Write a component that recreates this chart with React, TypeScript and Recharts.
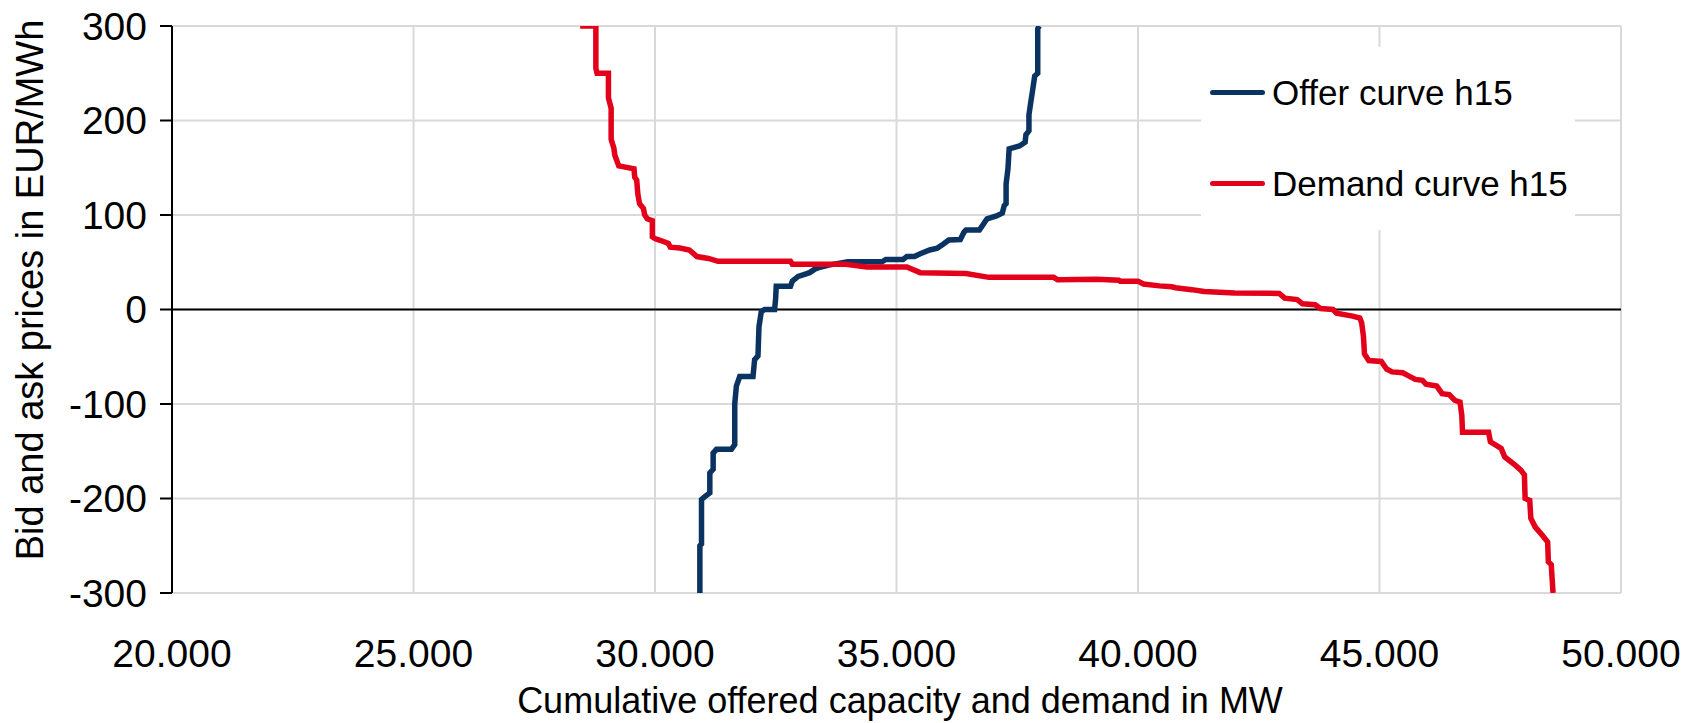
import React from "react";
import {
  LineChart,
  Line,
  XAxis,
  YAxis,
  CartesianGrid,
  ReferenceLine,
  Legend,
  Label,
} from "recharts";

// offer curve h15 (cumulative MW, price EUR/MWh)
const offerMW = [
  30929, 30929, 30963, 30963, 31032, 31135, 31135, 31204, 31204, 31272, 31582, 31651, 31651, 31685,
  31754, 32029, 32063, 32132, 32153, 32201, 32270, 32476, 32497, 32510, 32805, 32844, 32963, 33081,
  33200, 33318, 33437, 33595, 33990, 34700, 34780, 35135, 35214, 35372, 35491, 35688, 35846, 35965,
  36083, 36320, 36400, 36439, 36716, 36795, 36874, 37071, 37190, 37230, 37269, 37269, 37308, 37332,
  37545, 37663, 37680, 37742, 37742, 37782, 37821, 37861, 37924, 37924, 37955,
];
const offerPrice = [
  -300, -250, -248, -201, -198, -194, -173, -169, -152, -148, -148, -143, -100, -81,
  -71, -71, -53, -49, -18, -2, 0, 0, 11, 24.5, 24.5, 30, 35, 37,
  39, 43, 45, 47, 50.5, 50.5, 53, 53, 56, 56, 59, 63, 65, 69,
  73.5, 74, 82, 84, 84, 90, 96, 99, 102, 110, 112, 133, 149, 170,
  173, 177, 185, 189, 206, 220, 233, 247, 250, 297, 300,
];

// demand curve h15
const demandMW = [
  28450, 28776, 28776, 28800, 29036, 29036, 29092, 29092, 29147, 29170, 29250, 29566, 29580, 29621,
  29645, 29680, 29760, 29787, 29840, 29945, 29945, 30000, 30120, 30277, 30316, 30514, 30711, 30869,
  31106, 31304, 32805, 32844, 33911, 34385, 35214, 35491, 36439, 36913, 38256, 38335, 39148, 39600,
  39630, 40000, 40111, 40444, 40700, 40778, 41111, 41370, 42000, 42926, 43037, 43296, 43407, 43667,
  43778, 44037, 44111, 44444, 44593, 44630, 44667, 44689, 44778, 45037, 45148, 45259, 45481, 45593,
  45741, 45889, 45963, 46185, 46296, 46444, 46556, 46667, 46704, 46719, 47259, 47296, 47519, 47593,
  47815, 47926, 48000, 48015, 48111, 48133, 48222, 48370, 48481, 48496, 48556, 48593,
];
const demandPrice = [
  300, 300, 255, 250, 250, 224, 213, 180, 171, 163, 152, 149, 140, 137,
  122, 112, 107, 100, 96, 94, 77, 75, 73, 70, 66, 65, 63, 56,
  54, 51, 51, 48, 48, 45, 45, 39, 38, 34, 34, 31.5, 32, 31,
  30, 30, 27, 25, 24, 23, 21, 19, 17.5, 17, 12, 10.5, 6, 5,
  1, 0, -4, -7, -9, -14, -28, -47, -54, -55, -63, -66, -67, -70,
  -74, -75, -79, -81, -89, -90, -96, -98, -112, -130, -130, -140, -147, -156,
  -165, -170, -175, -200, -202, -221, -230, -239, -246, -267, -270, -300,
];

const seriesNames = ["Offer curve h15", "Demand curve h15"];
const xTicks = [20000, 25000, 30000, 35000, 40000, 45000, 50000];
const yTicks = [-300, -200, -100, 0, 100, 200, 300];

const offerData = offerMW.map((mw, i) => ({ mw, price: offerPrice[i] }));
const demandData = demandMW.map((mw, i) => ({ mw, price: demandPrice[i] }));

const FONT = '"Liberation Sans", Arial, sans-serif';
const BLUE = "#0a3361";
const RED = "#e2001a";

const fmtThousands = (v: number) => String(v).replace(/\B(?=(\d{3})+(?!\d))/g, ".");

const renderLegend = (props: any) => {
  const items = [...(props.payload || [])].sort(
    (a: any, b: any) => seriesNames.indexOf(a.value) - seriesNames.indexOf(b.value)
  );
  return (
    <div style={{ background: "#fff", width: 374, height: 183, fontFamily: FONT }}>
      {items.map((entry: any, i: number) => (
        <div key={i} style={{ display: "flex", alignItems: "center", height: 91 }}>
          <span
            style={{
              display: "inline-block",
              width: 55,
              height: 5,
              borderRadius: 3,
              background: entry.color,
              marginLeft: 9,
              marginRight: 7,
            }}
          />
          <span style={{ fontSize: 35, color: "#000" }}>{entry.value}</span>
        </div>
      ))}
    </div>
  );
};

const YTitle = () => (
  <text
    x={30}
    y={290}
    transform="rotate(-90 30 290)"
    textAnchor="middle"
    dominantBaseline="central"
    style={{ fontFamily: FONT, fontSize: 38, fill: "#000" }}
  >
    Bid and ask prices in EUR/MWh
  </text>
);

const XTitle = () => (
  <text
    x={900}
    y={700}
    textAnchor="middle"
    dominantBaseline="central"
    style={{ fontFamily: FONT, fontSize: 36, fill: "#000" }}
  >
    Cumulative offered capacity and demand in MW
  </text>
);

export default function App() {
  return (
    <div style={{ width: 1700, height: 723, background: "#fff" }}>
      <style>{`body{margin:0}`}</style>
      <LineChart width={1700} height={723} margin={{ top: 26, right: 79, bottom: 0, left: 72 }}>
        <CartesianGrid stroke="#d9d9d9" strokeWidth={2} />
        <XAxis
          type="number"
          dataKey="mw"
          domain={[20000, 50000]}
          ticks={xTicks}
          allowDataOverflow
          height={130}
          axisLine={false}
          tickLine={false}
          tickSize={0}
          tickMargin={46}
          tickFormatter={fmtThousands}
          tick={{ fontSize: 39, fill: "#000", fontFamily: FONT }}
        >
          <Label content={<XTitle />} />
        </XAxis>
        <YAxis
          type="number"
          dataKey="price"
          domain={[-300, 300]}
          ticks={yTicks}
          allowDataOverflow
          width={100}
          axisLine={{ stroke: "#000", strokeWidth: 2 }}
          tickLine={{ stroke: "#000", strokeWidth: 2 }}
          tickSize={12}
          tickMargin={13}
          tick={{ fontSize: 39, fill: "#000", fontFamily: FONT }}
        >
          <Label content={<YTitle />} />
        </YAxis>
        <ReferenceLine y={0} stroke="#000" strokeWidth={2} />
        <Line
          data={offerData}
          dataKey="price"
          name={seriesNames[0]}
          type="linear"
          stroke={BLUE}
          strokeWidth={5.5}
          dot={false}
          activeDot={false}
          isAnimationActive={false}
        />
        <Line
          data={demandData}
          dataKey="price"
          name={seriesNames[1]}
          type="linear"
          stroke={RED}
          strokeWidth={5.5}
          dot={false}
          activeDot={false}
          isAnimationActive={false}
        />
        <Legend
          layout="horizontal"
          align="center"
          verticalAlign="middle"
          width={374}
          height={183}
          content={renderLegend}
          wrapperStyle={{ left: 1201, top: 47, width: 374, height: 183 }}
        />
      </LineChart>
    </div>
  );
}
